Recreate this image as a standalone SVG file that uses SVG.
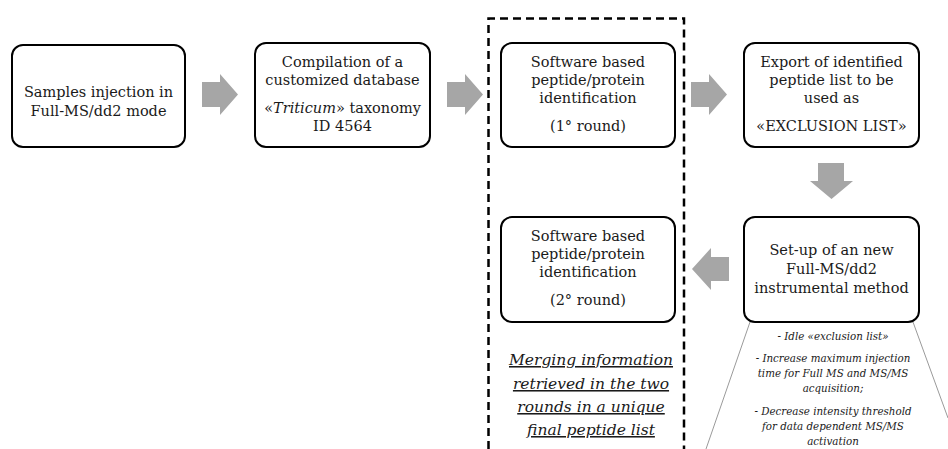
<svg xmlns="http://www.w3.org/2000/svg" width="948" height="449" viewBox="0 0 948 449">
<style>
.box{fill:#fff;stroke:#000;stroke-width:2}
.t{font-family:"DejaVu Serif","Liberation Serif",serif;font-size:14.5px;fill:#1a1a1a;text-anchor:middle}
.arr{fill:#a6a6a6;stroke:none}
.note{font-family:"DejaVu Serif","Liberation Serif",serif;font-style:italic;font-size:10.3px;fill:#1a1a1a;text-anchor:middle}
.merge{font-family:"DejaVu Serif","Liberation Serif",serif;font-style:italic;font-size:15.5px;fill:#1a1a1a;text-anchor:middle;text-decoration:underline}
.thin{stroke:#9a9a9a;stroke-width:1;fill:none}
</style>
<rect width="948" height="449" fill="#fff"/>
<g id="connectors">
<path class="arr" d="M202,82 H220 V74 L238,94.5 L220,115 V107 H202 Z"/>
<path class="arr" d="M447,82 H465 V74 L483,94.5 L465,115 V107 H447 Z"/>
<path class="arr" d="M691,82 H709 V74 L727,94.5 L709,115 V107 H691 Z"/>
<path class="arr" d="M818,163 V181 H810 L831.5,199 L853,181 H844 V163 Z"/>
<path class="arr" d="M729,257 H711 V248 L692,269 L711,290 V281 H729 Z"/>
<line class="thin" x1="750" y1="322" x2="706" y2="449"/>
<line class="thin" x1="913" y1="322" x2="948" y2="418"/>
</g>
<g id="dashed-frame">
<path d="M488.5,449 V18.5 H684 V449" fill="none" stroke="#000" stroke-width="2.5" stroke-dasharray="8 5"/>
</g>
<g id="node-samples">
<rect class="box" x="12" y="45" width="173" height="102" rx="11"/>
<text class="t" x="98.5" y="97">Samples injection in</text>
<text class="t" x="98.5" y="116">Full-MS/dd2 mode</text>
</g>
<g id="node-database">
<rect class="box" x="255" y="43" width="175" height="104" rx="11"/>
<text class="t" x="342.5" y="67">Compilation of a</text>
<text class="t" x="342.5" y="85">customized database</text>
<text class="t" x="342.5" y="113">«<tspan font-style="italic">Triticum</tspan>» taxonomy</text>
<text class="t" x="342.5" y="131">ID 4564</text>
</g>
<g id="node-round1">
<rect class="box" x="501" y="43" width="174" height="104" rx="11"/>
<text class="t" x="588" y="67">Software based</text>
<text class="t" x="588" y="85">peptide/protein</text>
<text class="t" x="588" y="103">identification</text>
<text class="t" x="588" y="131">(1° round)</text>
</g>
<g id="node-export">
<rect class="box" x="744" y="43" width="175" height="104" rx="11"/>
<text class="t" x="831.5" y="67">Export of identified</text>
<text class="t" x="831.5" y="85">peptide list to be</text>
<text class="t" x="831.5" y="103">used as</text>
<text class="t" x="831.5" y="131">«EXCLUSION LIST»</text>
</g>
<g id="node-setup">
<rect class="box" x="744" y="217" width="175" height="105" rx="11"/>
<text class="t" x="831.5" y="255">Set-up of an new</text>
<text class="t" x="831.5" y="274">Full-MS/dd2</text>
<text class="t" x="831.5" y="293">instrumental method</text>
</g>
<g id="node-round2">
<rect class="box" x="501" y="217" width="174" height="105" rx="11"/>
<text class="t" x="588" y="241">Software based</text>
<text class="t" x="588" y="259">peptide/protein</text>
<text class="t" x="588" y="277">identification</text>
<text class="t" x="588" y="305">(2° round)</text>
</g>
<g id="notes">
<text class="note" x="833" y="340">- Idle «exclusion list»</text>
<text class="note" x="833" y="362">- Increase maximum injection</text>
<text class="note" x="833" y="377">time for Full MS and MS/MS</text>
<text class="note" x="833" y="392">acquisition;</text>
<text class="note" x="833" y="415">- Decrease intensity threshold</text>
<text class="note" x="833" y="430">for data dependent MS/MS</text>
<text class="note" x="833" y="445">activation</text>
</g>
<g id="merge-text">
<text class="merge" x="591" y="365">Merging information</text>
<text class="merge" x="591" y="389">retrieved in the two</text>
<text class="merge" x="591" y="412">rounds in a unique</text>
<text class="merge" x="591" y="435">final peptide list</text>
</g>
</svg>
